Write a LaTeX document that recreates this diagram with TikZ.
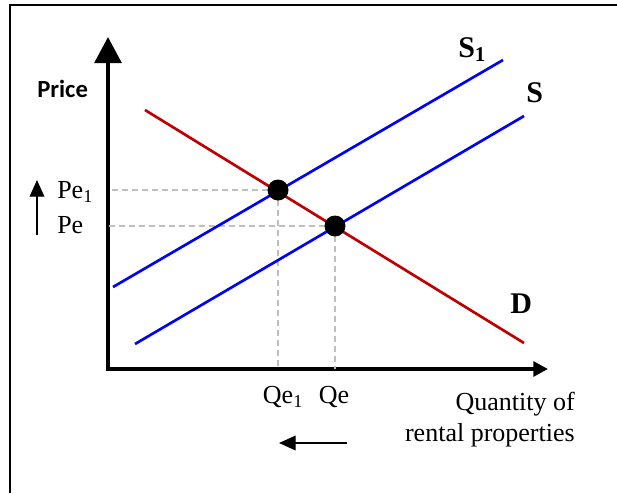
\documentclass[tikz,border=0pt]{standalone}
\usepackage{fontspec}
\setmainfont{Liberation Serif}
\newfontfamily\labelsans{Carlito}
\usetikzlibrary{arrows.meta}
\definecolor{supblue}{RGB}{0,0,255}
\definecolor{demred}{RGB}{192,0,0}
\definecolor{guidegray}{RGB}{191,191,191}

\begin{document}
\begin{tikzpicture}[x=0.75pt, y=-0.75pt,
    every node/.style={inner sep=0pt, font=\fontsize{19.5}{23.25}\selectfont},
    axisline/.style={line width=3pt, line join=miter},
    curvelbl/.style={font=\fontsize{22.5}{27}\selectfont\bfseries},
    supply/.style={line width=2pt, supblue},
    demand/.style={line width=2pt, demred},
    guide/.style={line width=1.1pt, guidegray, dash pattern=on 4.5pt off 3pt},
    eqdot/.style={circle, fill=black, minimum size=15.75pt},
    movearr/.style={line width=1pt, -{Triangle[length=12.5pt, width=11pt]}}
]
\useasboundingbox (0,0) rectangle (617,493);
\draw[line width=1.5pt] (10,493) -- (10,5) -- (617,5);

\coordinate (origin) at (108,369);
\coordinate (ytip) at (108,37);
\coordinate (xtip) at (548,369);
\draw[axisline, {Triangle[length=19.5pt, width=20pt]}-{Triangle[length=11pt, width=11pt]}]
    (ytip) -- (origin) -- (xtip);

\coordinate (eq1pt) at (278,190);
\coordinate (eq0pt) at (335,226);
\draw[guide] (eq1pt) -- (eq1pt -| origin);
\draw[guide] (eq0pt) -- (eq0pt -| origin);
\draw[guide] (eq1pt) -- (eq1pt |- origin);
\draw[guide] (eq0pt) -- (eq0pt |- origin);

\coordinate (dtop) at (145,110);
\coordinate (dbot) at (524,343);
\coordinate (s1low) at (113,287);
\coordinate (s1high) at (503,60);
\coordinate (s0low) at (135,344);
\coordinate (s0high) at (524,116);
\draw[demand] (dtop) -- (dbot);
\draw[supply] (s1low) -- (s1high);
\draw[supply] (s0low) -- (s0high);

\node[eqdot] (eq1) at (eq1pt) {};
\node[eqdot] (eq0) at (eq0pt) {};

\node[curvelbl, anchor=base west] (lblsone) at (458,57) {S\textsubscript{1}};
\node[curvelbl, anchor=base west] (lblszero) at (526,102) {S};
\node[curvelbl, anchor=base west] (lbld) at (510,313) {D};

\node[font={\labelsans\bfseries\fontsize{18.5}{22}\selectfont}, anchor=base west] (price) at (37,97) {Price};
\node[anchor=base west] (pe1) at (57,198) {Pe\textsubscript{1}};
\node[anchor=base west] (pe0) at (57,233) {Pe};
\coordinate (pupfrom) at (37,235);
\coordinate (pupto) at (37,180);
\draw[movearr] (pupfrom) -- (pupto);

\node[anchor=base] (qe1) at (283,403) {Qe\textsubscript{1}};
\node[anchor=base] (qe0) at (334,403) {Qe};
\coordinate (qleftfrom) at (347,443);
\coordinate (qleftto) at (279,443);
\draw[movearr] (qleftfrom) -- (qleftto);

\node[anchor=base east, align=right] (qlbl) at (575,441) {Quantity of\\rental properties};
\end{tikzpicture}
\end{document}
